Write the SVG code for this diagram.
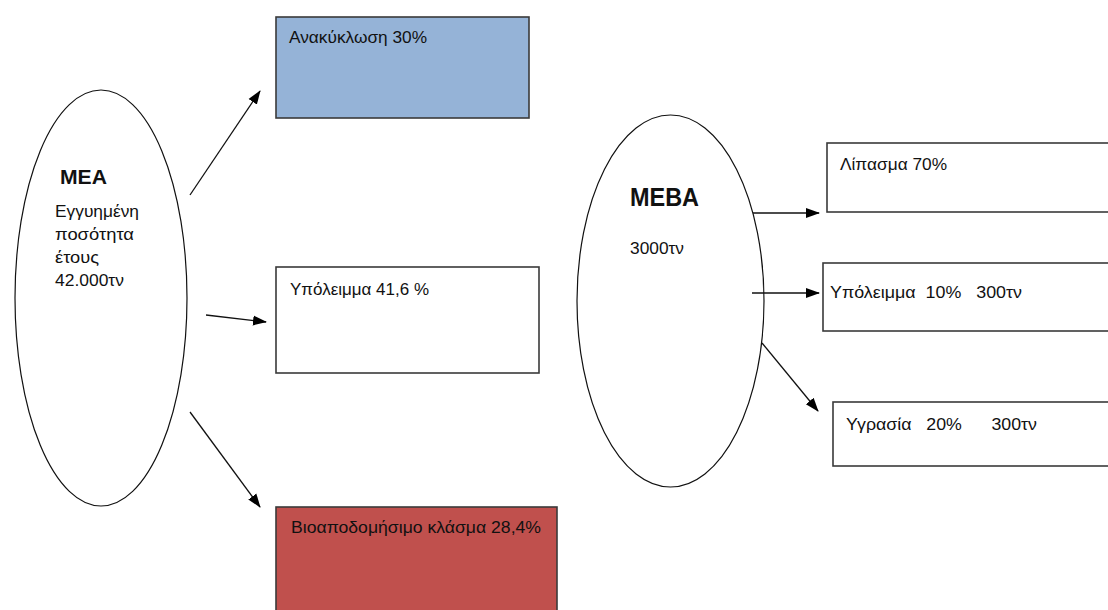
<svg xmlns="http://www.w3.org/2000/svg" width="1108" height="610" viewBox="0 0 1108 610">
<style>
.t{font-family:"Liberation Sans",Arial,sans-serif;font-size:16px;fill:#111}
.b{font-family:"Liberation Sans",Arial,sans-serif;font-weight:bold;fill:#111}
.box{stroke:#3a3a3a;stroke-width:1.6}
.ell{fill:#fff;stroke:#111;stroke-width:1.2}
.con{stroke:#111;stroke-width:1.3;fill:none;marker-end:url(#ah)}
</style>
<defs>
<marker id="ah" markerUnits="userSpaceOnUse" markerWidth="14" markerHeight="12" refX="13" refY="5" orient="auto" viewBox="0 0 14 10">
<path d="M0,0 L14,5 L0,10 z" fill="#000"/>
</marker>
</defs>
<rect width="1108" height="610" fill="#fff"/>
<g id="mea">
<ellipse class="ell" cx="101" cy="298" rx="86" ry="208"/>
<text class="b" x="60" y="184" font-size="21" textLength="47" lengthAdjust="spacingAndGlyphs">ΜΕΑ</text>
<text class="t" x="55" y="217" textLength="84" lengthAdjust="spacingAndGlyphs">Εγγυημένη</text>
<text class="t" x="55" y="240" textLength="79" lengthAdjust="spacingAndGlyphs">ποσότητα</text>
<text class="t" x="55" y="263" textLength="44" lengthAdjust="spacingAndGlyphs">έτους</text>
<text class="t" x="55" y="286" textLength="69" lengthAdjust="spacingAndGlyphs">42.000τν</text>
</g>
<g id="anakyklosi">
<rect class="box" x="276" y="17" width="253" height="101" fill="#95B3D7"/>
<text class="t" x="289" y="43" textLength="138" lengthAdjust="spacingAndGlyphs">Ανακύκλωση 30%</text>
</g>
<g id="ypoleimma1">
<rect class="box" x="276" y="267" width="263" height="106" fill="#fff"/>
<text class="t" x="290" y="295" textLength="139" lengthAdjust="spacingAndGlyphs">Υπόλειμμα 41,6 %</text>
</g>
<g id="bioapodomisimo">
<rect class="box" x="276" y="507" width="281" height="115" fill="#C0504D"/>
<text class="t" x="291" y="533" textLength="250" lengthAdjust="spacingAndGlyphs">Βιοαποδομήσιμο κλάσμα 28,4%</text>
</g>
<g id="meva">
<ellipse class="ell" cx="670.5" cy="301" rx="93.5" ry="186"/>
<text class="b" x="630" y="206" font-size="26" textLength="69" lengthAdjust="spacingAndGlyphs">ΜΕΒΑ</text>
<text class="t" x="630" y="254" textLength="54" lengthAdjust="spacingAndGlyphs">3000τν</text>
</g>
<g id="lipasma">
<rect class="box" x="827" y="143" width="300" height="69" fill="#fff"/>
<text class="t" x="840" y="170" textLength="107" lengthAdjust="spacingAndGlyphs">Λίπασμα 70%</text>
</g>
<g id="ypoleimma2">
<rect class="box" x="823" y="263" width="300" height="68" fill="#fff"/>
<text class="t" x="830" y="298" textLength="192" lengthAdjust="spacingAndGlyphs" xml:space="preserve">Υπόλειμμα  10%   300τν</text>
</g>
<g id="ygrasia">
<rect class="box" x="833" y="402" width="300" height="64" fill="#fff"/>
<text class="t" x="846" y="430" textLength="191" lengthAdjust="spacingAndGlyphs" xml:space="preserve">Υγρασία   20%      300τν</text>
</g>
<g id="connectors">
<line class="con" x1="190" y1="195" x2="260" y2="91"/>
<line class="con" x1="206" y1="315" x2="266" y2="322"/>
<line class="con" x1="190" y1="412" x2="260" y2="507"/>
<line class="con" x1="753" y1="213" x2="819" y2="213"/>
<line class="con" x1="752" y1="293" x2="819" y2="293"/>
<line class="con" x1="762" y1="343" x2="818" y2="411"/>
</g>
</svg>
